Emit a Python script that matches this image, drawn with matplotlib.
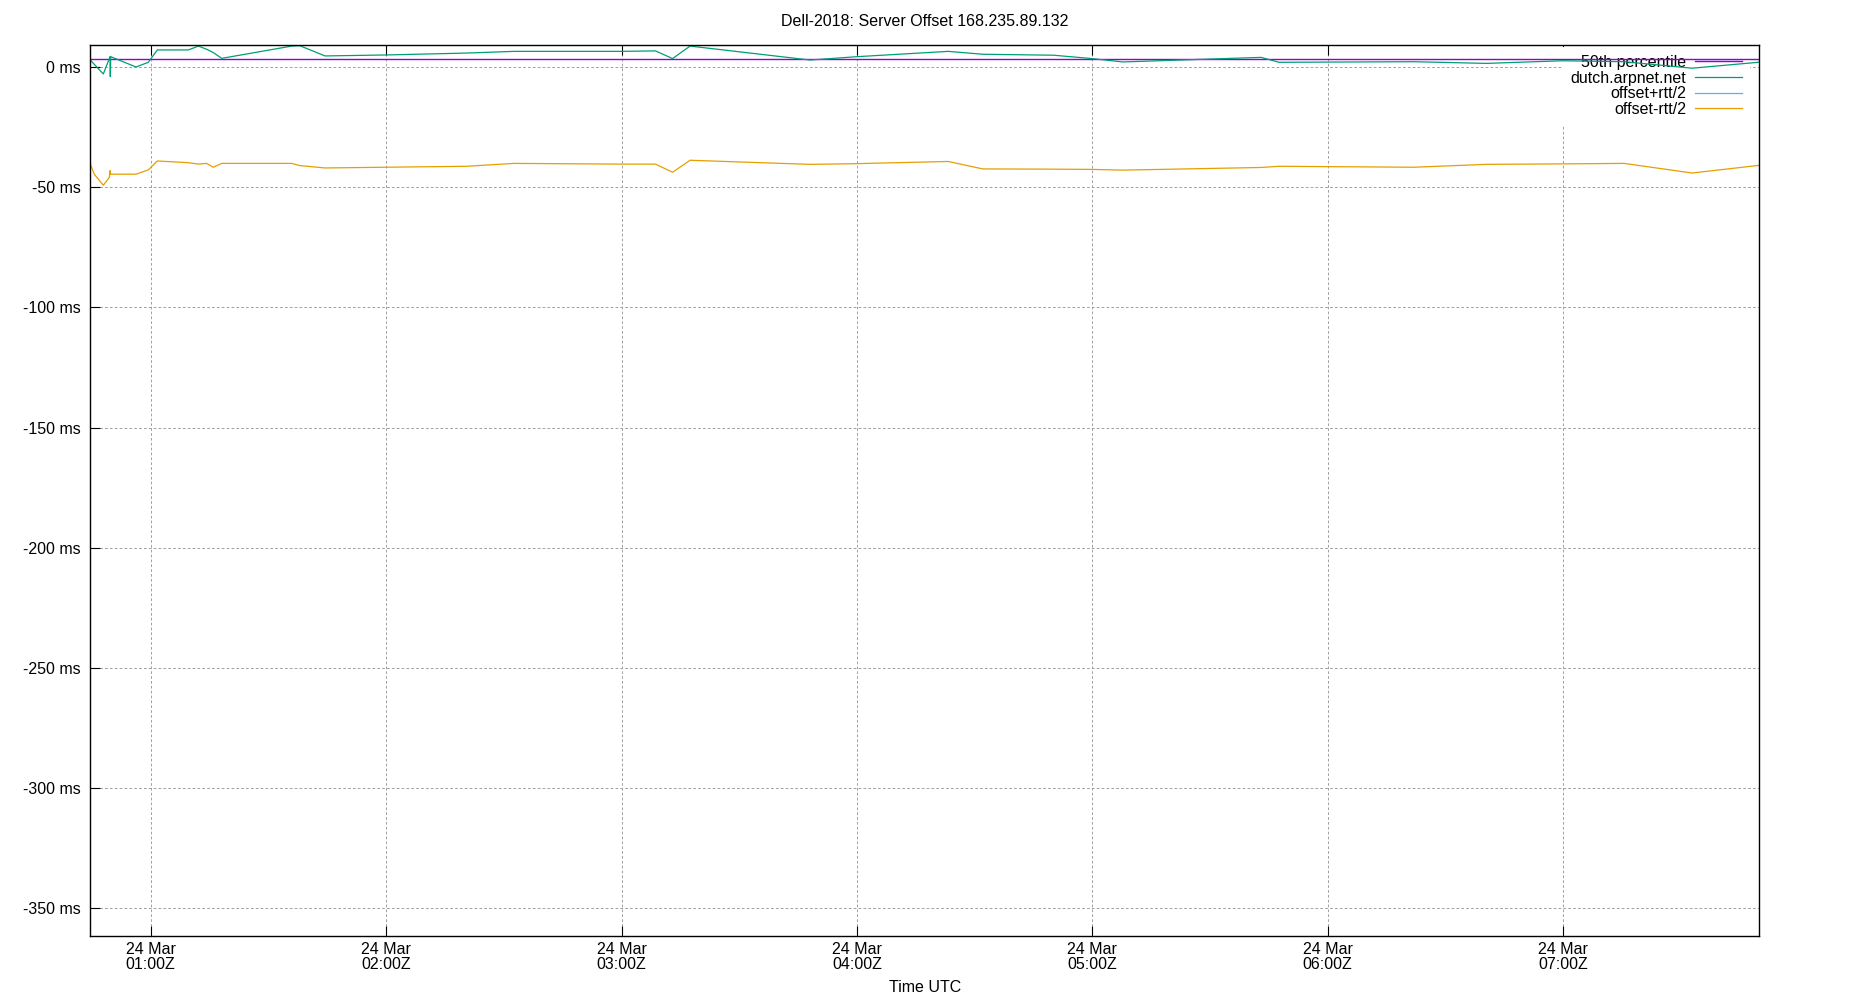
import matplotlib
matplotlib.use("Agg")
import matplotlib.pyplot as plt
import matplotlib.dates as mdates
import pandas as pd
import numpy as np

plt.rcParams['font.family'] = ['Liberation Sans', 'DejaVu Sans']
plt.rcParams['font.size'] = 11.5

# sample times (UTC, 24 Mar)
times = ["00:44:36", "00:45:37", "00:47:55", "00:49:27", "00:49:38", "00:49:42",
         "00:49:48", "00:56:15", "00:59:23", "01:01:41", "01:09:35", "01:12:10",
         "01:14:13", "01:15:57", "01:18:06", "01:35:56", "01:37:56", "01:44:26",
         "01:59:49", "02:20:34", "02:32:36", "02:59:59", "03:08:40", "03:13:00",
         "03:17:28", "03:48:03", "04:00:07", "04:23:16", "04:32:04", "04:50:08",
         "04:59:53", "05:07:45", "05:43:01", "05:47:35", "06:21:54", "06:40:28",
         "06:59:54", "07:15:32", "07:32:52", "07:50:01"]

# offset of dutch.arpnet.net, ms
offset = [2.9, 1.1, -2.9, 3.5, 4.3, -4.0,
          4.3, 0.0, 1.95, 7.1, 7.1, 8.7,
          7.4, 6.0, 3.6, 8.7, 8.9, 4.6,
          5.0, 5.8, 6.5, 6.5, 6.7, 3.5,
          8.7, 2.9, 4.3, 6.5, 5.3, 4.9,
          3.5, 2.1, 4.0, 1.95, 2.2, 1.5,
          2.6, 2.2, -0.5, 2.0]

# offset - rtt/2, ms
offset_low = [-40.4, -44.6, -49.2, -45.9, -43.1, -44.6,
              -44.6, -44.6, -42.8, -39.1, -39.8, -40.4,
              -40.1, -41.7, -40.1, -40.1, -41.0, -42.0,
              -41.7, -41.3, -40.1, -40.4, -40.4, -43.8,
              -38.8, -40.5, -40.2, -39.3, -42.4, -42.5,
              -42.6, -42.9, -41.8, -41.3, -41.7, -40.5,
              -40.3, -40.1, -44.1, -40.9]

p50 = 3.2
title = "Dell-2018: Server Offset 168.235.89.132"

t = pd.to_datetime(["2024-03-24 " + s for s in times])
off = np.array(offset)
low = np.array(offset_low)
rtt = 2 * (off - low)
high = off + rtt / 2

fig = plt.figure(figsize=(18.5, 10), dpi=100)
ax = fig.add_axes([90.3 / 1850, 1 - 936 / 1000, (1759.3 - 90.3) / 1850, (936 - 45) / 1000])

ax.axhline(p50, color='#9400d3', lw=1.0, label='50th percentile', zorder=3)
ax.plot(t, off, color='#009e73', lw=0.9, label='dutch.arpnet.net', zorder=3)
ax.plot(t, high, color='#56b4e9', lw=0.9, label='offset+rtt/2', zorder=3)
ax.plot(t, low, color='#e69f00', lw=0.9, label='offset-rtt/2', zorder=3)

ax.set_xlim(pd.Timestamp("2024-03-24 00:44:36"), pd.Timestamp("2024-03-24 07:50:00"))
ax.set_ylim(-361.5, 9.15)

ax.xaxis.set_major_locator(mdates.HourLocator())
ax.xaxis.set_major_formatter(mdates.DateFormatter('%d %b\n%H:%MZ'))
ax.set_yticks(np.arange(-350, 1, 50))
ax.yaxis.set_major_formatter(plt.FuncFormatter(lambda v, p: f"{v:.0f} ms"))

ax.tick_params(axis='x', direction='in', length=7.2, width=0.8, top=True, pad=4.5)
ax.tick_params(axis='y', direction='in', length=7.2, width=0.8, right=False, pad=7)
for lab in ax.get_xticklabels():
    lab.set_linespacing(1.0)

ax.set_axisbelow(True)
ax.grid(True, color='#a0a0a0', lw=0.7, dashes=(2.8, 2.2))
for s in ax.spines.values():
    s.set_linewidth(1.0)
    s.set_zorder(4)

ax.set_xlabel("Time UTC", labelpad=5.5)
fig.text(0.5, 1 - 22 / 1000, title, ha='center', va='center')

leg = ax.legend(loc='upper right', bbox_to_anchor=(1750 / 1850, 1 - 47 / 1000),
                bbox_transform=fig.transFigure, markerfirst=False, frameon=True,
                fancybox=False, edgecolor='none', facecolor='white', framealpha=1,
                handlelength=2.92, handletextpad=0.58, labelspacing=0.04,
                borderpad=0.5, borderaxespad=0)
leg.set_zorder(2)

fig.savefig("out.png", dpi=100)
